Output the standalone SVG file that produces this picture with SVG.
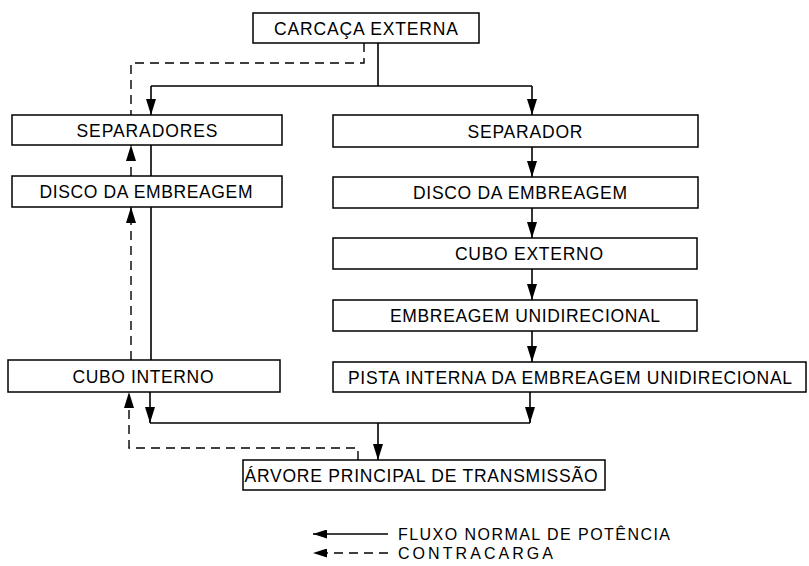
<svg xmlns="http://www.w3.org/2000/svg" width="809" height="566" viewBox="0 0 809 566">
<style>
.box{fill:#fff;stroke:#000;stroke-width:1.5}
.t{font-family:"Liberation Sans",Arial,sans-serif;font-size:17.5px;fill:#000;text-anchor:middle}
.lt{font-family:"Liberation Sans",Arial,sans-serif;font-size:16px;fill:#000}
.s{fill:none;stroke:#000;stroke-width:1.6}
.d{fill:none;stroke:#000;stroke-width:1.4;stroke-dasharray:9 6}
</style>
<defs>
<marker id="ah" viewBox="0 0 16 10" refX="16" refY="5" markerWidth="16" markerHeight="10" markerUnits="userSpaceOnUse" orient="auto">
<path d="M0,0 L16,5 L0,10 z" fill="#000"/>
</marker>
<marker id="ahl" viewBox="0 0 14 9" refX="14" refY="4.5" markerWidth="14" markerHeight="9" markerUnits="userSpaceOnUse" orient="auto">
<path d="M0,0 L14,4.5 L0,9 z" fill="#000"/>
</marker>
</defs>
<rect width="809" height="566" fill="#fff"/>
<g id="connectors">
<path class="s" d="M378,43 V86 M151,86 H532"/>
<path class="s" d="M151,86 V115" marker-end="url(#ah)"/>
<path class="s" d="M532,86 V115" marker-end="url(#ah)"/>
<path class="s" d="M151,145 V176 M151,207 V360"/>
<path class="s" d="M150,392 V423" marker-end="url(#ah)"/>
<path class="s" d="M150,423 H530"/>
<path class="s" d="M532,147 V177" marker-end="url(#ah)"/>
<path class="s" d="M532,208 V238" marker-end="url(#ah)"/>
<path class="s" d="M532,269 V300" marker-end="url(#ah)"/>
<path class="s" d="M532,331 V362" marker-end="url(#ah)"/>
<path class="s" d="M530,392 V423" marker-end="url(#ah)"/>
<path class="s" d="M378,423 V460" marker-end="url(#ah)"/>
<path class="d" d="M364,43 V63 H131 V115"/>
<path class="d" d="M131,176 V145" marker-end="url(#ah)"/>
<path class="d" d="M131,360 V207" marker-end="url(#ah)"/>
<path class="d" d="M358,460 V448 H129 V392" marker-end="url(#ah)"/>
</g>
<g id="carcaca_externa"><rect class="box" x="253" y="13" width="226" height="30"/><text class="t" x="366" y="34.5" textLength="184" lengthAdjust="spacing">CARCAÇA EXTERNA</text></g>
<g id="separadores"><rect class="box" x="12" y="115" width="270" height="30"/><text class="t" x="147" y="136.5" textLength="141" lengthAdjust="spacing">SEPARADORES</text></g>
<g id="disco_esquerdo"><rect class="box" x="12" y="176" width="270" height="31"/><text class="t" x="146" y="198" textLength="213" lengthAdjust="spacing">DISCO DA EMBREAGEM</text></g>
<g id="cubo_interno"><rect class="box" x="8" y="360" width="272" height="32"/><text class="t" x="143" y="382.5" textLength="141" lengthAdjust="spacing">CUBO INTERNO</text></g>
<g id="separador"><rect class="box" x="333" y="115" width="365" height="32"/><text class="t" x="525" y="137.5" textLength="115" lengthAdjust="spacing">SEPARADOR</text></g>
<g id="disco_direito"><rect class="box" x="333" y="177" width="365" height="31"/><text class="t" x="520" y="199" textLength="214" lengthAdjust="spacing">DISCO DA EMBREAGEM</text></g>
<g id="cubo_externo"><rect class="box" x="333" y="238" width="364" height="31"/><text class="t" x="529" y="260" textLength="148" lengthAdjust="spacing">CUBO EXTERNO</text></g>
<g id="embreagem_unidirecional"><rect class="box" x="333" y="300" width="364" height="31"/><text class="t" x="525" y="322" textLength="270" lengthAdjust="spacing">EMBREAGEM UNIDIRECIONAL</text></g>
<g id="pista_interna"><rect class="box" x="333" y="362" width="473" height="30"/><text class="t" x="570" y="383.5" textLength="444" lengthAdjust="spacing">PISTA INTERNA DA EMBREAGEM UNIDIRECIONAL</text></g>
<g id="arvore_principal"><rect class="box" x="243" y="460" width="362" height="30"/><text class="t" x="421" y="482" textLength="353" lengthAdjust="spacing">ÁRVORE PRINCIPAL DE TRANSMISSÃO</text></g>
<g id="legenda">
<path class="s" d="M388,534 H313" marker-end="url(#ahl)"/>
<text class="lt" x="398" y="539.5" textLength="272" lengthAdjust="spacing">FLUXO NORMAL DE POTÊNCIA</text>
<path class="d" d="M388,553 H313" stroke-dasharray="12 6" marker-end="url(#ahl)"/>
<text class="lt" x="398" y="559" textLength="155" lengthAdjust="spacing">CONTRACARGA</text>
</g>
</svg>
